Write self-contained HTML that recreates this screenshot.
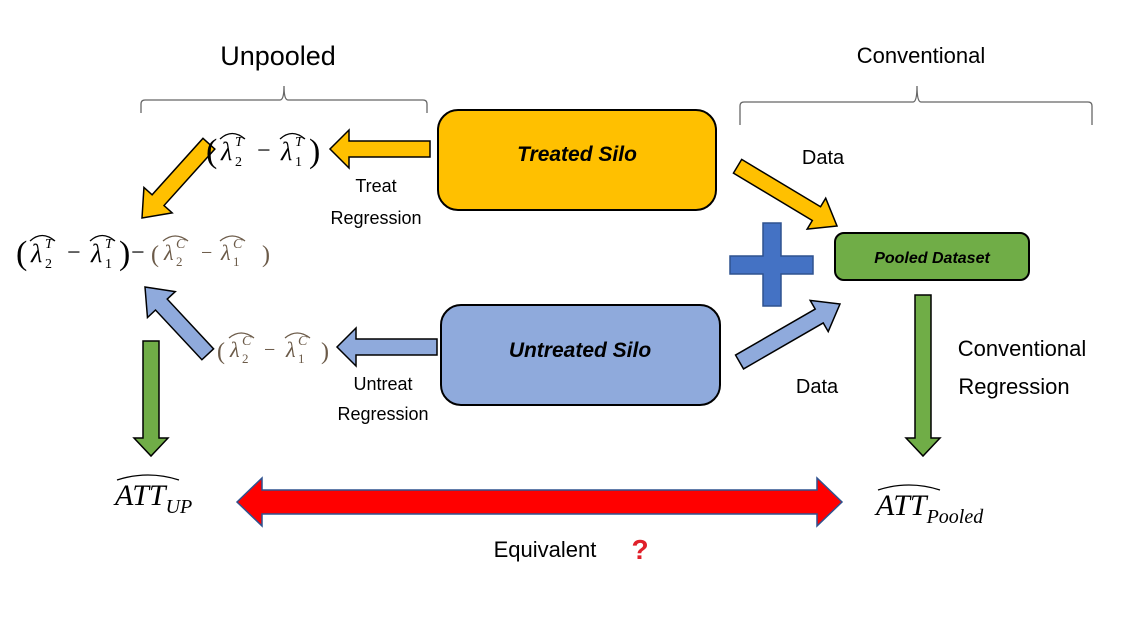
<!DOCTYPE html>
<html><head><meta charset="utf-8"><style>
html,body{margin:0;padding:0;background:#fff;}
svg{display:block;}
.t{font-family:"Liberation Sans",sans-serif;fill:#000;}
.m{font-family:"Liberation Serif",serif;font-style:italic;}
.n{font-family:"Liberation Serif",serif;}
</style></head><body>
<svg width="1133" height="627" viewBox="0 0 1133 627" xmlns="http://www.w3.org/2000/svg">
<rect width="1133" height="627" fill="#fff"/>
<text x="278" y="65" class="t" font-size="27" text-anchor="middle">Unpooled</text>
<text x="921" y="63" class="t" font-size="22" text-anchor="middle">Conventional</text>
<path d="M141,113 V104 Q141,100 145,100 H280 Q284,100 284,86 Q284,100 288,100 H423 Q427,100 427,104 V113" fill="none" stroke="#666" stroke-width="1.3"/>
<path d="M740,125 V106 Q740,102 744,102 H913 Q917,102 917,86 Q917,102 921,102 H1088 Q1092,102 1092,106 V125" fill="none" stroke="#666" stroke-width="1.3"/>
<rect x="438" y="110" width="278" height="100" rx="20" fill="#FFC000" stroke="#000" stroke-width="2"/>
<text x="577" y="161" class="t" font-size="21" font-weight="bold" font-style="italic" text-anchor="middle">Treated Silo</text>
<rect x="441" y="305" width="279" height="100" rx="20" fill="#8FAADC" stroke="#000" stroke-width="2"/>
<text x="580" y="357" class="t" font-size="21" font-weight="bold" font-style="italic" text-anchor="middle">Untreated Silo</text>
<rect x="835" y="233" width="194" height="47" rx="9" fill="#70AD47" stroke="#000" stroke-width="2"/>
<text x="932" y="263" class="t" font-size="16" font-weight="bold" font-style="italic" text-anchor="middle">Pooled Dataset</text>
<polygon points="430,141 349,141 349,130 330,149 349,168 349,157 430,157" fill="#FFC000" stroke="#000" stroke-width="1.5"/>
<polygon points="437,339 356,339 356,328 337,347 356,366 356,355 437,355" fill="#8FAADC" stroke="#000" stroke-width="1.5"/>
<g transform="translate(142,218) rotate(-48)">
<polygon points="0,0 24,-19 24,-8 100,-8 100,8 24,8 24,19" fill="#FFC000" stroke="#000" stroke-width="1.5"/>
</g>
<g transform="translate(145,287) rotate(47)">
<polygon points="0,0 24,-19 24,-8 92,-8 92,8 24,8 24,19" fill="#8FAADC" stroke="#000" stroke-width="1.5"/>
</g>
<g transform="translate(837,226) rotate(211)">
<polygon points="0,0 24,-18 24,-8 116,-8 116,8 24,8 24,18" fill="#FFC000" stroke="#000" stroke-width="1.5"/>
</g>
<g transform="translate(840,304) rotate(150)">
<polygon points="0,0 24,-18 24,-8 116,-8 116,8 24,8 24,18" fill="#8FAADC" stroke="#000" stroke-width="1.5"/>
</g>
<polygon points="763,223 781,223 781,256 813,256 813,274 781,274 781,306 763,306 763,274 730,274 730,256 763,256" fill="#4472C4" stroke="#2F528F" stroke-width="1.5"/>
<polygon points="143,341 159,341 159,438 168,438 151,456 134,438 143,438" fill="#70AD47" stroke="#000" stroke-width="1.5"/>
<polygon points="915,295 931,295 931,438 940,438 923,456 906,438 915,438" fill="#70AD47" stroke="#000" stroke-width="1.5"/>
<polygon points="237,502 262,478 262,490 817,490 817,478 842,502 817,526 817,514 262,514 262,526" fill="#FF0000" stroke="#2F528F" stroke-width="1.5"/>
<text x="376" y="192" class="t" font-size="18" text-anchor="middle">Treat</text>
<text x="376" y="224" class="t" font-size="18" text-anchor="middle">Regression</text>
<text x="383" y="390" class="t" font-size="18" text-anchor="middle">Untreat</text>
<text x="383" y="420" class="t" font-size="18" text-anchor="middle">Regression</text>
<text x="823" y="164" class="t" font-size="20" text-anchor="middle">Data</text>
<text x="817" y="393" class="t" font-size="20" text-anchor="middle">Data</text>
<text x="1022" y="356" class="t" font-size="22" text-anchor="middle">Conventional</text>
<text x="1014" y="394" class="t" font-size="22" text-anchor="middle">Regression</text>
<text x="545" y="557" class="t" font-size="22" text-anchor="middle">Equivalent</text>
<text x="640" y="559" font-family="Liberation Sans,sans-serif" font-size="28" font-weight="bold" fill="#E0202A" text-anchor="middle">?</text>

<g fill="#000">
<text x="206" y="162" class="n" font-size="34">(</text>
<text x="221" y="160" class="m" font-size="26">λ</text>
<text x="235" y="166" class="n" font-size="14">2</text>
<text x="235" y="146" class="m" font-size="14">T</text>
<text x="257" y="158" class="n" font-size="24">−</text>
<text x="281" y="160" class="m" font-size="26">λ</text>
<text x="295" y="166" class="n" font-size="14">1</text>
<text x="295" y="146" class="m" font-size="14">T</text>
<text x="309" y="162" class="n" font-size="34">)</text>
</g>
<g fill="#000">
<text x="16" y="264" class="n" font-size="34">(</text>
<text x="31" y="262" class="m" font-size="26">λ</text>
<text x="45" y="268" class="n" font-size="14">2</text>
<text x="45" y="248" class="m" font-size="14">T</text>
<text x="67" y="260" class="n" font-size="24">−</text>
<text x="91" y="262" class="m" font-size="26">λ</text>
<text x="105" y="268" class="n" font-size="14">1</text>
<text x="105" y="248" class="m" font-size="14">T</text>
<text x="119" y="264" class="n" font-size="34">)</text>
<text x="131" y="260" class="n" font-size="24">−</text>
</g>
<g fill="#6b5a48">
<text x="151" y="262" class="n" font-size="24">(</text>
<text x="164" y="260" class="m" font-size="22">λ</text>
<text x="176" y="266" class="n" font-size="13">2</text>
<text x="176" y="248" class="m" font-size="14">C</text>
<text x="201" y="259" class="n" font-size="20">−</text>
<text x="221" y="260" class="m" font-size="22">λ</text>
<text x="233" y="266" class="n" font-size="13">1</text>
<text x="233" y="248" class="m" font-size="14">C</text>
<text x="262" y="262" class="n" font-size="24">)</text>
</g>
<g fill="#6b5a48">
<text x="217" y="359" class="n" font-size="24">(</text>
<text x="230" y="357" class="m" font-size="22">λ</text>
<text x="242" y="363" class="n" font-size="13">2</text>
<text x="242" y="345" class="m" font-size="14">C</text>
<text x="264" y="356" class="n" font-size="20">−</text>
<text x="286" y="357" class="m" font-size="22">λ</text>
<text x="298" y="363" class="n" font-size="13">1</text>
<text x="298" y="345" class="m" font-size="14">C</text>
<text x="321" y="359" class="n" font-size="24">)</text>
</g>
<text x="115" y="505" class="m" font-size="30">ATT<tspan font-size="20" dy="8">UP</tspan></text>
<text x="876" y="515" class="m" font-size="30">ATT<tspan font-size="20" dy="8">Pooled</tspan></text>
<g fill="none" stroke="#000" stroke-width="1.3">
<path d="M220,139 Q232,128 245,139"/><path d="M280,139 Q292,128 305,139"/>
<path d="M30,241 Q42,230 55,241"/><path d="M90,241 Q102,230 115,241"/>
<path d="M117,480 Q148,470 179,480"/>
<path d="M878,490 Q909,480 940,490"/>
</g>
<g fill="none" stroke="#6b5a48" stroke-width="1.3">
<path d="M163,241 Q175,231 188,241"/><path d="M220,241 Q232,231 245,241"/>
<path d="M229,338 Q241,328 254,338"/><path d="M285,338 Q297,328 310,338"/>
</g>
</svg>
</body></html>
